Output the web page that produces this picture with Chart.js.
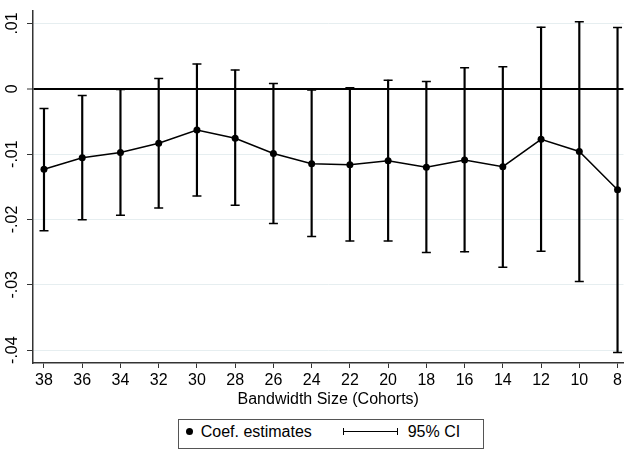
<!DOCTYPE html>
<html>
<head>
<meta charset="utf-8">
<script src="https://cdn.jsdelivr.net/npm/chart.js@4/dist/chart.umd.min.js"></script>
<style>
  body { margin: 0; background: #fff; }
  #wrap { position: relative; width: 625px; height: 450px; }
  #legend {
    position: absolute; left: 178px; top: 419px; width: 306px; height: 30px;
    box-sizing: border-box; border: 1px solid #555; background: #fff;
    font: 16px "Liberation Sans", Arial, Helvetica, sans-serif; color: #000;
  }
  #legend .dot { position: absolute; left: 6.5px; top: 8px; width: 7px; height: 7px; border-radius: 50%; background: #000; }
  #legend .txt { position: absolute; top: 0; line-height: 23px; white-space: nowrap; }
  #legend svg { position: absolute; left: 164px; top: 7px; }
</style>
</head>
<body>
<div id="wrap">
  <canvas id="myChart" width="625" height="450"></canvas>
  <div id="legend"></div>
</div>
<script>
const cohorts = [38, 36, 34, 32, 30, 28, 26, 24, 22, 20, 18, 16, 14, 12, 10, 8];
const coef   = [-0.01232, -0.01056, -0.00974, -0.00833, -0.00632, -0.00758, -0.00990, -0.01147,
                -0.01162, -0.01101, -0.01202, -0.01091, -0.01192, -0.00773, -0.00959, -0.01545];
const ciHigh = [-0.00303, -0.00101, -0.00010, 0.00156, 0.00379, 0.00288, 0.00080, -0.00020,
                0.00015, 0.00132, 0.00111, 0.00323, 0.00338, 0.00944, 0.01025, 0.00939];
const ciLow  = [-0.02171, -0.02005, -0.01935, -0.01823, -0.01641, -0.01783, -0.02061, -0.02262,
                -0.02329, -0.02329, -0.02505, -0.02495, -0.02732, -0.02485, -0.02950, -0.04035];
const yTicks = [0.01, 0, -0.01, -0.02, -0.03, -0.04];
const xTitle = 'Bandwidth Size (Cohorts)';
const seriesLabels = ['Coef. estimates', '95% CI'];

Chart.defaults.font.family = '"Liberation Sans", Arial, Helvetica, sans-serif';
Chart.defaults.color = '#000';

// stata style: .01, 0, -.01
const fmt = v => {
    if (Math.abs(v) < 1e-9) return '0';
    return (v < 0 ? '-' : '') + Math.abs(v).toFixed(2).replace(/^0/, '');
};

const ctx = document.getElementById('myChart');
const chart = new Chart(ctx, {
    type: 'line',
    data: {
        datasets: [
            {
                label: seriesLabels[0],
                type: 'line',
                data: cohorts.map((x, i) => ({ x, y: coef[i] })),
                borderColor: '#000',
                borderWidth: 1.5,
                pointRadius: 3.5,
                pointBackgroundColor: '#000',
                pointBorderWidth: 0,
                tension: 0,
                order: 0
            },
            {
                label: seriesLabels[1],
                type: 'bar',
                data: cohorts.map((x, i) => ({ x, y: [ciLow[i], ciHigh[i]] })),
                backgroundColor: '#000',
                borderWidth: 0,
                barThickness: 1.5,
                order: 2
            },
            {
                // caps of the intervals
                label: 'caps',
                type: 'scatter',
                data: cohorts.map((x, i) => ({ x, y: ciHigh[i] }))
                    .concat(cohorts.map((x, i) => ({ x, y: ciLow[i] }))),
                pointStyle: 'line',
                pointRadius: 4.5,
                borderColor: '#000',
                borderWidth: 1.5,
                showLine: false,
                order: 1
            }
        ]
    },
    options: {
        responsive: false,
        animation: false,
        events: [],
        layout: { autoPadding: false, padding: { top: 7, right: 1, left: 0, bottom: 36 } },
        plugins: {
            legend: { display: false },
            tooltip: { enabled: false }
        },
        scales: {
            x: {
                type: 'linear',
                reverse: true,
                min: 7.689,
                max: 38.575,
                offset: false,
                afterBuildTicks: s => { s.ticks = cohorts.map(value => ({ value })); },
                afterFit: s => { s.height = 51; },
                border: { color: '#333', width: 1.5 },
                grid: { drawOnChartArea: false, offset: false, tickLength: 5, tickColor: '#333', tickWidth: 1 },
                ticks: { font: { size: 16 }, padding: 3, maxRotation: 0, autoSkip: false, callback: v => String(v) },
                title: { display: true, text: xTitle, font: { size: 16 }, padding: { top: 0, bottom: 5 } }
            },
            y: {
                min: -0.04197,
                max: 0.01197,
                afterBuildTicks: s => { s.ticks = yTicks.map(value => ({ value })); },
                afterFit: s => { s.width = 33; },
                border: { color: '#333', width: 1.5 },
                grid: {
                    color: c => (c.tick && c.tick.value === 0) ? '#000' : '#e6eef0',
                    lineWidth: c => (c.tick && c.tick.value === 0) ? 2 : 1,
                    tickColor: '#333',
                    tickWidth: 1,
                    tickLength: 6
                },
                ticks: {
                    minRotation: 90, maxRotation: 90, crossAlign: 'center', padding: 1,
                    font: { size: 16 },
                    callback: v => fmt(v)
                }
            }
        }
    }
});

// html legend in a framed box, like the stata one
const legendEl = document.getElementById('legend');
const sets = chart.data.datasets;
legendEl.innerHTML =
    '<span class="dot"></span>' +
    '<span class="txt" style="left:21.7px">' + sets[0].label + '</span>' +
    '<svg width="56" height="9"><line x1="0.5" y1="4.5" x2="54.5" y2="4.5" stroke="#000" stroke-width="1.2"/>' +
    '<line x1="0.5" y1="1" x2="0.5" y2="8" stroke="#000" stroke-width="1"/>' +
    '<line x1="54.5" y1="1" x2="54.5" y2="8" stroke="#000" stroke-width="1"/></svg>' +
    '<span class="txt" style="left:228.7px">' + sets[1].label + '</span>';
</script>
</body>
</html>
